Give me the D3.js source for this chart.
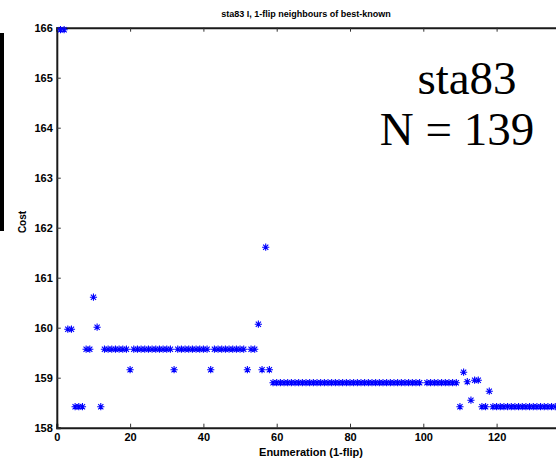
<!DOCTYPE html>
<html><head><meta charset="utf-8">
<script src="https://cdn.jsdelivr.net/npm/d3@7"></script>
<style>body{margin:0;background:#fff}svg{display:block}</style>
</head><body>
<svg id="c" width="556" height="460"></svg>
<script>
const titleText = "sta83 I, 1-flip neighbours of best-known";
const xLabel = "Enumeration (1-flip)";
const yLabel = "Cost";
const annot = ["sta83", "N = 139"];
const xTicks = [0, 20, 40, 60, 80, 100, 120];
const yTicks = [158, 159, 160, 161, 162, 163, 164, 165, 166];
const costs = [
165.96,165.96,159.97,159.97,158.42,158.42,158.42,159.57,159.57,160.61,
160.01,158.42,159.57,159.57,159.57,159.57,159.57,159.57,159.57,159.16,
159.57,159.57,159.57,159.57,159.57,159.57,159.57,159.57,159.57,159.57,
159.57,159.16,159.57,159.57,159.57,159.57,159.57,159.57,159.57,159.57,
159.57,159.16,159.57,159.57,159.57,159.57,159.57,159.57,159.57,159.57,
159.57,159.16,159.57,159.57,160.07,159.16,161.61,159.16,158.90,158.90,
158.90,158.90,158.90,158.90,158.90,158.90,158.90,158.90,158.90,158.90,
158.90,158.90,158.90,158.90,158.90,158.90,158.90,158.90,158.90,158.90,
158.90,158.90,158.90,158.90,158.90,158.90,158.90,158.90,158.90,158.90,
158.90,158.90,158.90,158.90,158.90,158.90,158.90,158.90,158.90,null,
158.90,158.90,158.90,158.90,158.90,158.90,158.90,158.90,158.90,158.42,
159.11,158.92,158.55,158.95,158.95,158.42,158.42,158.73,158.42,158.42,
158.42,158.42,158.42,158.42,158.42,158.42,158.42,158.42,158.42,158.42,
158.42,158.42,158.42,158.42,158.42,158.42,158.42,158.42,158.42
];
const data = costs.map((v, i) => ({i: i + 1, v})).filter(d => d.v !== null);

const svg = d3.select("#c");
const L = 56.8, T = 27.7, B = 427.7, R = 56.8 + 139 * 3.665;
const x = d3.scaleLinear().domain([0, 139]).range([L, R]);
const y = d3.scaleLinear().domain([158, 166]).range([B, T]);
const font = "'Liberation Sans', Arial, Helvetica, sans-serif";

// left black bar artifact
svg.append("rect").attr("x", 0).attr("y", 33).attr("width", 4).attr("height", 198).attr("fill", "#000");

// axes
const gx = svg.append("g").attr("transform", `translate(0,${B})`)
  .call(d3.axisBottom(x).tickValues(xTicks).tickSize(-4).tickPadding(6).tickFormat(d3.format("d")));
const gxt = svg.append("g").attr("transform", `translate(0,${T})`)
  .call(d3.axisTop(x).tickValues(xTicks).tickSize(-4).tickFormat(""));
const gy = svg.append("g").attr("transform", `translate(${L},0)`)
  .call(d3.axisLeft(y).tickValues(yTicks).tickSize(-4).tickPadding(4).tickFormat(d3.format("d")));
[gx, gxt, gy].forEach(g => {
  g.select(".domain").attr("stroke", "#1a1a1a").attr("stroke-width", 2);
  g.selectAll(".tick line").attr("stroke", "#333").attr("stroke-width", 1);
  g.selectAll("text").attr("fill", "#000").style("font-family", font).style("font-weight", "bold").style("font-size", "11px");
});
gy.selectAll(".tick text").attr("dy", "0.36em");

// markers (asterisk)
const r = 3.6;
const mk = svg.append("g").attr("stroke", "#0000ff").attr("stroke-width", 1.1).attr("fill", "none");
const pts = mk.selectAll("g").data(data).join("g")
  .attr("transform", d => `translate(${x(d.i)},${y(d.v)})`);
pts.append("path").attr("d", `M${-r},0H${r}M0,${-r}V${r}M${-r*0.72},${-r*0.72}L${r*0.72},${r*0.72}M${-r*0.72},${r*0.72}L${r*0.72},${-r*0.72}`);

// title & labels
svg.append("text").attr("x", 306).attr("y", 17).attr("text-anchor", "middle")
  .style("font-family", font).style("font-weight", "bold").style("font-size", "9px").text(titleText);
svg.append("text").attr("x", 311).attr("y", 456).attr("text-anchor", "middle")
  .style("font-family", font).style("font-weight", "bold").style("font-size", "11px").text(xLabel);
svg.append("text").attr("transform", `translate(26,222) rotate(-90)`).attr("text-anchor", "middle")
  .style("font-family", font).style("font-weight", "bold").style("font-size", "10px").text(yLabel);

// annotation
const an = svg.append("text").attr("text-anchor", "middle")
  .style("font-family", "'Liberation Serif', 'Times New Roman', serif").style("font-size", "47px").attr("fill", "#000");
an.append("tspan").attr("x", 467).attr("y", 94).text(annot[0]);
an.append("tspan").attr("x", 457).attr("y", 145).text(annot[1]);
</script>
</body></html>
